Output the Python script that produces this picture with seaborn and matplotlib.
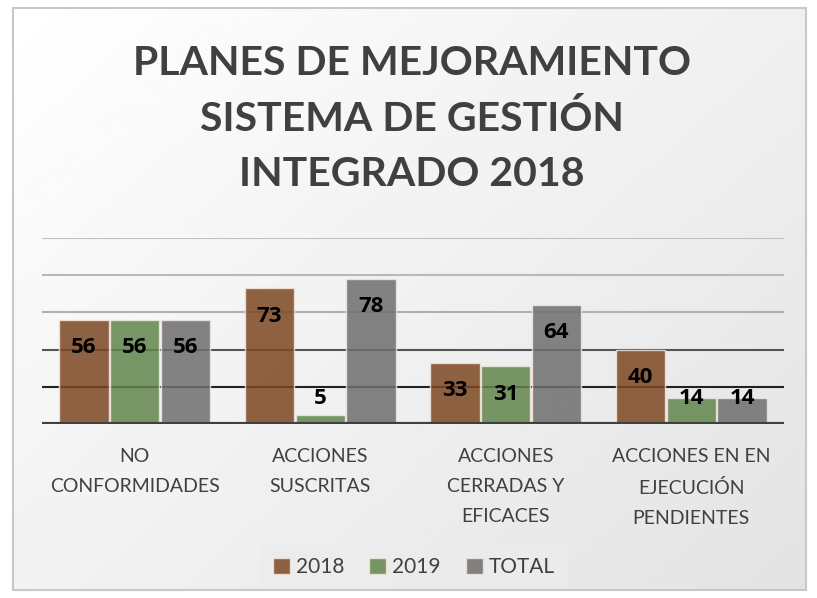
import numpy as np
import pandas as pd
import matplotlib
matplotlib.use("Agg")
import matplotlib.pyplot as plt
import seaborn as sns
from matplotlib.patches import Rectangle

categories = ["NO\nCONFORMIDADES", "ACCIONES\nSUSCRITAS",
              "ACCIONES\nCERRADAS Y\nEFICACES", "ACCIONES EN EN\nEJECUCIÓN\nPENDIENTES"]
series_names = ["2018", "2019", "TOTAL"]
v2018 = [56, 73, 33, 40]
v2019 = [56, 5, 31, 14]
vtotal = [56, 78, 64, 14]
colors = ["#8B4513", "#5E8F42", "#6E6E6E"]

rows = []
for name, vals in zip(series_names, [v2018, v2019, vtotal]):
    for c, v in zip(categories, vals):
        rows.append({"cat": c, "serie": name, "valor": v})
df = pd.DataFrame(rows)

sns.set_theme(style="white")
plt.rcParams['font.family'] = ['Lato', 'DejaVu Sans']

W, H = 817, 598
fig = plt.figure(figsize=(W / 100, H / 100), dpi=100)
fig.patch.set_facecolor("white")

# background gradient inside frame
bg = fig.add_axes([13 / W, 1 - 590 / H, (806 - 13) / W, (590 - 8) / H], zorder=0)
xx, yy = np.meshgrid(np.linspace(0, 1, 200), np.linspace(0, 1, 200))
grad = 1.0 - 0.11 * (0.55 * xx + 0.45 * yy)
bg.imshow(grad, cmap="gray", vmin=0, vmax=1, aspect="auto", extent=[0, 1, 1, 0])
bg.set_axis_off()
fig.add_artist(Rectangle((13 / W, 1 - 590 / H), (806 - 13) / W, (590 - 8) / H,
                         transform=fig.transFigure, fill=False, edgecolor="#c8c8c8", lw=1.5, zorder=5))

ax = fig.add_axes([42 / W, 1 - 424 / H, 742 / W, 186 / H], zorder=2)
ax.patch.set_alpha(0)

grid_cols = {20: "#222222", 40: "#555555", 60: "#b0b0b0", 80: "#b8b8b8", 100: "#c0c0c0"}
for yv, col in grid_cols.items():
    ax.axhline(yv, color=col, lw=1.5, zorder=0)

sns.barplot(data=df, x="cat", y="valor", hue="serie", palette=colors, ax=ax,
            width=0.82, gap=0.03, alpha=0.85, edgecolor="#f2e6de", linewidth=1.0,
            zorder=2, legend=True)

# data labels
nh = len(series_names)
for i, (name, vals) in enumerate(zip(series_names, [v2018, v2019, vtotal])):
    for j, v in enumerate(vals):
        x = j - 0.41 + 0.82 / nh * (i + 0.5)
        y = max(v - 15, 13.5)
        ax.text(x, y, str(v), ha="center", va="center", fontsize=16,
                fontweight="bold", color="black", zorder=4,
                family=["Open Sans", "DejaVu Sans"])

ax.axhline(0, color="#404040", lw=3, zorder=3)
ax.set_ylim(0, 100)
ax.set_xlim(-0.5, 3.5)
ax.set_yticks([])
ax.set_xlabel("")
ax.set_ylabel("")
for s in ax.spines.values():
    s.set_visible(False)
ax.tick_params(axis="x", length=0, pad=17, labelsize=14, labelcolor="#404040")
for lab in ax.get_xticklabels():
    lab.set_linespacing(1.95)

leg = ax.legend(loc="center", bbox_to_anchor=(414 / W, 1 - 567 / H),
                bbox_transform=fig.transFigure, ncol=3, frameon=True,
                fontsize=15, handlelength=0.8, handleheight=0.8, handletextpad=0.3,
                columnspacing=1.2, borderpad=0.6, fancybox=False)
leg.get_frame().set_facecolor("#ececec")
leg.get_frame().set_edgecolor("none")
for t in leg.get_texts():
    t.set_color("#404040")

fig.text(412 / W, 1 - 119 / H, "PLANES DE MEJORAMIENTO\nSISTEMA DE GESTIÓN\nINTEGRADO 2018",
         ha="center", va="center", fontsize=29.5, fontweight="bold", color="#404040",
         linespacing=1.58, zorder=6)

fig.savefig("out.png", dpi=100)
